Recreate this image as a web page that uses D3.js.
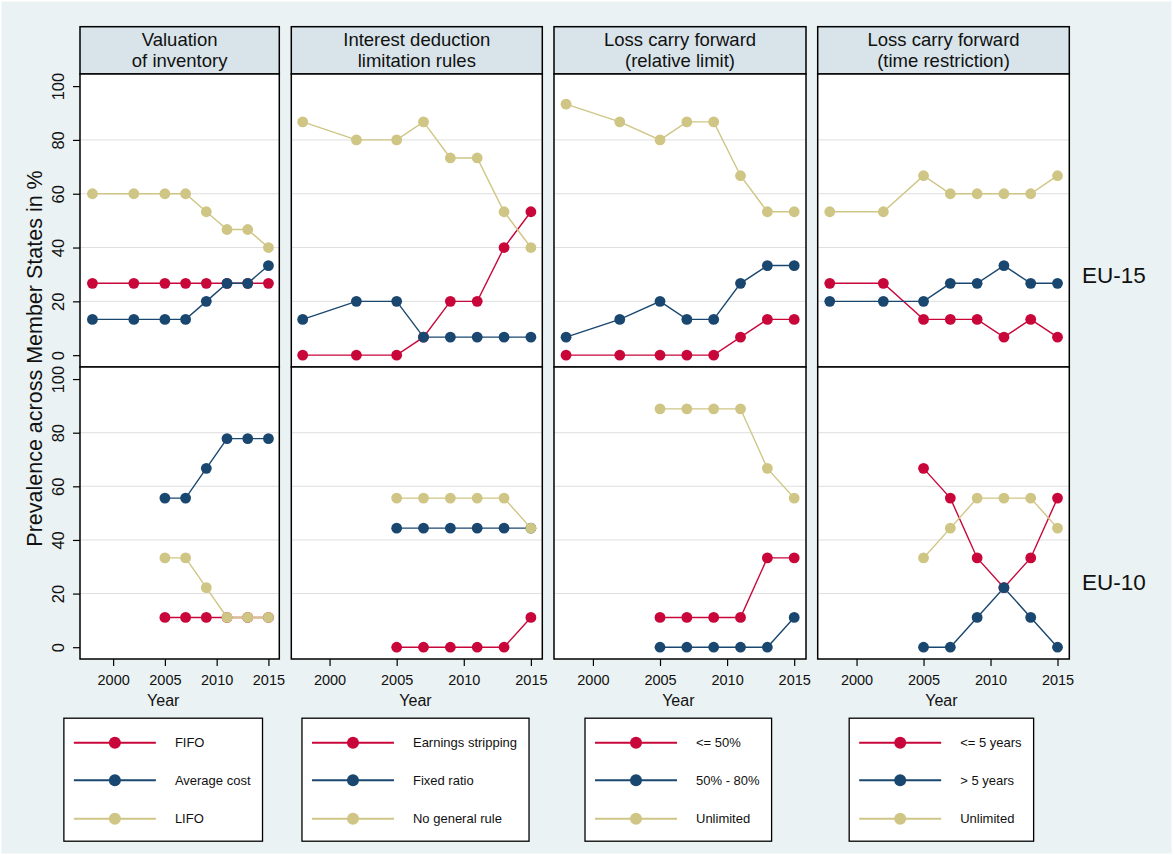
<!DOCTYPE html>
<html lang="en">
<head>
<meta charset="utf-8" />
<title>Prevalence across Member States</title>
<style>
  html, body { margin: 0; padding: 0; background: #ffffff; }
  svg { display: block; font-family: 'Liberation Sans', Arial, sans-serif; }
  .grid line { stroke: #dfdfdf; stroke-width: 1; }
  .xaxis text { font-size: 14.5px; fill: #111; }
  .yaxis text { font-size: 16.5px; fill: #111; }
  .xaxis line, .yaxis line { stroke: #000; stroke-width: 1.2; }
</style>
</head>
<body>
<svg></svg>
<script src="https://d3js.org/d3.v7.min.js"></script>
<script>
// years observed
const yearsEU15 = [1998, 2002, 2005, 2007, 2009, 2011, 2013, 2015]
const yearsEU10 = [2005, 2007, 2009, 2011, 2013, 2015]

const panelTitles = [
  ['Valuation', 'of inventory'],
  ['Interest deduction', 'limitation rules'],
  ['Loss carry forward', '(relative limit)'],
  ['Loss carry forward', '(time restriction)'],
]
const seriesLabels = [
  ['FIFO', 'Average cost', 'LIFO'],
  ['Earnings stripping', 'Fixed ratio', 'No general rule'],
  ['<= 50%', '50% - 80%', 'Unlimited'],
  ['<= 5 years', '> 5 years', 'Unlimited'],
]
const groupLabels = ['EU-15', 'EU-10']
const yTicks = [0, 20, 40, 60, 80, 100]
const xTicks = [2000, 2005, 2010, 2015]

// values in % (three series per panel, same order as the labels)
const inventoryEU15 = [
  [26.7, 26.7, 26.7, 26.7, 26.7, 26.7, 26.7, 26.7],
  [13.3, 13.3, 13.3, 13.3, 20, 26.7, 26.7, 33.3],
  [60, 60, 60, 60, 53.3, 46.7, 46.7, 40],
]
const inventoryEU10 = [
  [11.1, 11.1, 11.1, 11.1, 11.1, 11.1],
  [55.6, 55.6, 66.7, 77.8, 77.8, 77.8],
  [33.3, 33.3, 22.2, 11.1, 11.1, 11.1],
]
const interestEU15 = [
  [0, 0, 0, 6.7, 20, 20, 40, 53.3],
  [13.3, 20, 20, 6.7, 6.7, 6.7, 6.7, 6.7],
  [86.7, 80, 80, 86.7, 73.3, 73.3, 53.3, 40],
]
const interestEU10 = [
  [0, 0, 0, 0, 0, 11.1],
  [44.4, 44.4, 44.4, 44.4, 44.4, 44.4],
  [55.6, 55.6, 55.6, 55.6, 55.6, 44.4],
]
const lossRelEU15 = [
  [0, 0, 0, 0, 0, 6.7, 13.3, 13.3],
  [6.7, 13.3, 20, 13.3, 13.3, 26.7, 33.3, 33.3],
  [93.3, 86.7, 80, 86.7, 86.7, 66.7, 53.3, 53.3],
]
const lossRelEU10 = [
  [11.1, 11.1, 11.1, 11.1, 33.3, 33.3],
  [0, 0, 0, 0, 0, 11.1],
  [88.9, 88.9, 88.9, 88.9, 66.7, 55.6],
]
const lossTimeEU15 = [
  [26.7, 26.7, 13.3, 13.3, 13.3, 6.7, 13.3, 6.7],
  [20, 20, 20, 26.7, 26.7, 33.3, 26.7, 26.7],
  [53.3, 53.3, 66.7, 60, 60, 60, 60, 66.7],
]
const lossTimeEU10 = [
  [66.7, 55.6, 33.3, 22.2, 33.3, 55.6],
  [0, 0, 11.1, 22.2, 11.1, 0],
  [33.3, 44.4, 55.6, 55.6, 55.6, 44.4],
]

const colors = ['#c8063a', '#1a476f', '#cfc584']

const panels = [
  { eu15: inventoryEU15, eu10: inventoryEU10 },
  { eu15: interestEU15, eu10: interestEU10 },
  { eu15: lossRelEU15, eu10: lossRelEU10 },
  { eu15: lossTimeEU15, eu10: lossTimeEU10 },
]

// layout
const width = 1173, height = 855
const panelX = [[80, 279.3], [291.3, 542.3], [554, 806], [817.7, 1069.3]]
const yearDomains = [[1996.8, 2016.05], [1997.15, 2015.85], [1997.1, 2015.88], [1997.1, 2015.88]]
const headerTop = 26.7, plotTop = 74, plotMid = 367, plotBottom = 659
const legendCenters = [163.2, 415.5, 678.3, 941.4]

const svg = d3.select('svg').attr('width', width).attr('height', height)

svg.append('rect')
  .attr('x', 1.5).attr('y', 1.5)
  .attr('width', width - 3).attr('height', height - 3)
  .attr('fill', '#eaf2f3')
  .attr('stroke', '#f4f8f9')

const yTop = d3.scaleLinear().domain([-4.4, 104.5]).range([plotMid, plotTop])
const yBottom = d3.scaleLinear().domain([-4.4, 104.5]).range([plotBottom, plotMid])

const line = (x, y) => d3.line().x((d) => x(d.year)).y((d) => y(d.value))

panels.forEach((p, i) => {
  const [x0, x1] = panelX[i]
  const x = d3.scaleLinear().domain(yearDomains[i]).range([x0, x1])
  const g = svg.append('g')

  // header strip
  g.append('rect')
    .attr('x', x0).attr('y', headerTop)
    .attr('width', x1 - x0).attr('height', plotTop - headerTop)
    .attr('fill', '#d8e4ea')
    .attr('stroke', '#000').attr('stroke-width', 1.5)
  g.append('text')
    .attr('x', (x0 + x1) / 2)
    .attr('text-anchor', 'middle')
    .attr('font-size', 18.5)
    .attr('fill', '#111')
    .selectAll('tspan')
    .data(panelTitles[i])
    .join('tspan')
    .attr('x', (x0 + x1) / 2)
    .attr('y', (d, k) => 46.3 + k * 20.2)
    .text((d) => d)

  const groups = [
    { y: yTop, data: p.eu15, years: yearsEU15 },
    { y: yBottom, data: p.eu10, years: yearsEU10 },
  ]

  groups.forEach((grp, gi) => {
    const [yb, yt] = grp.y.range()
    g.append('rect')
      .attr('x', x0).attr('y', yt)
      .attr('width', x1 - x0).attr('height', yb - yt)
      .attr('fill', '#fff')

    g.append('g')
      .attr('class', 'grid')
      .selectAll('line')
      .data([20, 40, 60, 80])
      .join('line')
      .attr('x1', x0).attr('x2', x1)
      .attr('y1', (d) => grp.y(d)).attr('y2', (d) => grp.y(d))

    grp.data.forEach((vals, s) => {
      const pts = vals.map((v, k) => ({ year: grp.years[k], value: v }))
      g.append('path')
        .datum(pts)
        .attr('d', line(x, grp.y))
        .attr('fill', 'none')
        .attr('stroke', colors[s])
        .attr('stroke-width', 1.4)
      g.selectAll(null)
        .data(pts)
        .join('circle')
        .attr('cx', (d) => x(d.year))
        .attr('cy', (d) => grp.y(d.value))
        .attr('r', 5.4)
        .attr('fill', colors[s])
    })

    g.append('rect')
      .attr('x', x0).attr('y', yt)
      .attr('width', x1 - x0).attr('height', yb - yt)
      .attr('fill', 'none')
      .attr('stroke', '#000').attr('stroke-width', 1.5)

    // y axis only on the first column
    if (i === 0) {
      const ax = g.append('g')
        .attr('class', 'yaxis')
        .attr('transform', `translate(${x0},0)`)
        .call(d3.axisLeft(grp.y).tickValues(yTicks).tickSize(7))
      ax.select('.domain').remove()
      ax.selectAll('text')
        .attr('transform', 'rotate(-90)')
        .attr('text-anchor', 'middle')
        .attr('x', 0)
        .attr('y', -22)
        .attr('dy', '0.35em')
    }
  })

  // x axis under the bottom row
  const xa = g.append('g')
    .attr('class', 'xaxis')
    .attr('transform', `translate(0,${plotBottom})`)
    .call(d3.axisBottom(x).tickValues(xTicks).tickFormat(d3.format('d')).tickSize(7).tickPadding(9))
  xa.select('.domain').remove()

  // axis title and legend
  const cx = legendCenters[i]
  g.append('text')
    .attr('x', cx).attr('y', 700.5)
    .attr('dy', '0.35em')
    .attr('text-anchor', 'middle')
    .attr('font-size', 16)
    .attr('fill', '#111')
    .text('Year')

  const leg = g.append('g')
  const rowY = [742.7, 780.3, 818.7]
  const texts = leg.selectAll('text')
    .data(seriesLabels[i])
    .join('text')
    .attr('font-size', 13)
    .attr('fill', '#111')
    .attr('y', (d, k) => rowY[k])
    .attr('dy', '0.35em')
    .text((d) => d)
  const maxW = d3.max(texts.nodes(), (n) => n.getComputedTextLength())
  const boxW = 10 + 82 + 19 + maxW + 12
  const bx = cx - boxW / 2
  leg.insert('rect', 'text')
    .attr('x', bx).attr('y', 718.2)
    .attr('width', boxW).attr('height', 123)
    .attr('fill', '#fff')
    .attr('stroke', '#000').attr('stroke-width', 1.3)
  texts.attr('x', bx + 10 + 82 + 19)
  seriesLabels[i].forEach((lab, k) => {
    leg.append('line')
      .attr('x1', bx + 10).attr('x2', bx + 92)
      .attr('y1', rowY[k]).attr('y2', rowY[k])
      .attr('stroke', colors[k]).attr('stroke-width', 2)
    leg.append('circle')
      .attr('cx', bx + 51).attr('cy', rowY[k])
      .attr('r', 6)
      .attr('fill', colors[k])
  })
})

// shared y title and row labels
svg.append('text')
  .attr('transform', 'translate(34,358.5) rotate(-90)')
  .attr('text-anchor', 'middle')
  .attr('dy', '0.35em')
  .attr('font-size', 21.5)
  .attr('fill', '#111')
  .text('Prevalence across Member States in %')

svg.selectAll('.rowlabel')
  .data(groupLabels)
  .join('text')
  .attr('class', 'rowlabel')
  .attr('x', 1082)
  .attr('y', (d, k) => [275, 582][k])
  .attr('dy', '0.35em')
  .attr('font-size', 22.5)
  .attr('fill', '#111')
  .text((d) => d)
</script>
</body>
</html>
